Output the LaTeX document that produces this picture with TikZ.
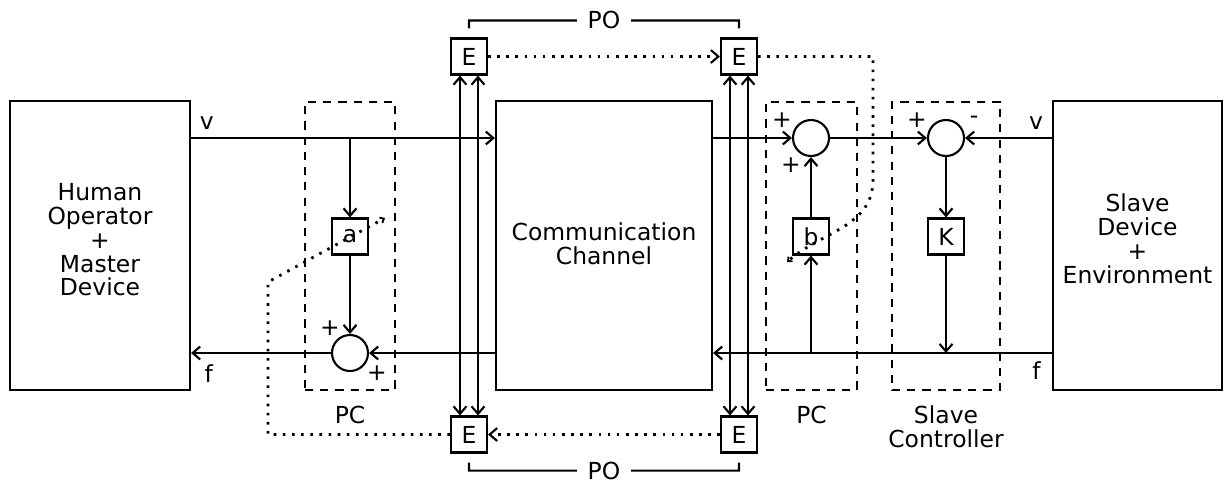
\documentclass[tikz,border=0pt]{standalone}
\usepackage{fontspec}
\setmainfont{DejaVu Sans}
\usetikzlibrary{arrows.meta,positioning}

\begin{document}
\begin{tikzpicture}[
    x=0.015cm, y=-0.015cm,
    font=\fontsize{10}{10.2}\selectfont,
    line width=0.9pt,
    bigbox/.style={draw, minimum height=4.335cm, align=center},
    group/.style={draw, dashed, dash pattern=on 3.5pt off 3pt,
                  minimum height=4.32cm},
    block/.style={draw, minimum size=0.54cm, inner sep=0pt},
    sum/.style={draw, circle, minimum size=0.54cm, inner sep=0pt},
    sign/.style={inner sep=0pt},
    arrow/.style={-{Straight Barb[length=3.2pt,width=5.5pt]}},
    dblarrow/.style={{Straight Barb[length=3.2pt,width=5.5pt]}-{Straight Barb[length=3.2pt,width=5.5pt]}},
    dots/.style={line width=1.2pt, dash pattern=on 1.1pt off 2.8pt},
    dotarrow/.style={-{Straight Barb[length=3.2pt,width=5.5pt,line width=0.9pt]}},
    tiny/.style={-{Straight Barb[length=1.4pt,width=2.6pt,line width=0.8pt]}},
]
\useasboundingbox (0,0) rectangle (1228,480);

% main blocks
\node[bigbox, minimum width=2.7cm, text depth=5pt] (hm) at (100,245.5)
      {Human\\Operator\\+\\Master\\Device};
\node[bigbox, minimum width=3.24cm, text depth=2pt] (cc) at (604,245.5)
      {Communication\\Channel};
\node[bigbox, minimum width=2.535cm, text depth=6pt] (sv) at (1137.5,245.5)
      {Slave\\Device\\+\\Environment};

% dashed groups
\node[group, minimum width=1.35cm,
      label={[label distance=2.5pt]below:PC}] (pcl) at (350,246) {};
\node[group, minimum width=1.365cm,
      label={[label distance=2.5pt]below:PC}] (pcr) at (811.5,246) {};
\node[group, minimum width=1.62cm,
      label={[label distance=2.5pt, align=center]below:Slave\\Controller}]
      (sc) at (946,246) {};

% passivity elements
\node[block] (etl) at (469,56.5) {E};
\node[block] (etr) at (739,56.5) {E};
\node[block] (ebl) at (469,434.5) {E};
\node[block] (ebr) at (739,434.5) {E};

% left PC
\node[block] (a) at (350,236.5) {a};
\node[sum] (sl) at (350,353) {};
% right PC
\node[block] (b) at (811,236.5) {b};
\node[sum] (sb) at (811,138) {};
% slave controller
\node[block] (K) at (946,236.5) {K};
\node[sum] (sk) at (946,138) {};

\coordinate (pr) at (873,180);
\coordinate (bt) at (787,262);
\coordinate (pl) at (268,282);
\coordinate (at) at (385,218);

% signals
\draw[arrow] (hm.east |- sk) node[above right=0pt and 0pt]{v} -- (cc.west |- sk);
\draw[arrow] (a.north |- sk) -- (a);
\draw[arrow] (a) -- (sl);
\draw[arrow] (cc.west |- sl) -- (sl);
\draw[arrow] (sl) -- (hm.east |- sl) node[below right=1pt and 2pt]{f};
\draw[arrow] (cc.east |- sb) -- (sb);
\draw[arrow] (b.south |- sl) -- (b);
\draw[arrow] (b) -- (sb);
\draw[arrow] (sb) -- (sk);
\draw[arrow] (sv.west |- sk) node[above left=0pt and 0pt]{v} -- (sk);
\draw[arrow] (sk) -- (K);
\draw[arrow] (K) -- (K.south |- sl);
\draw[arrow] (sv.west |- sl) node[below left=0pt and 1pt]{f} -- (cc.east |- sl);

% signs
\node[sign] at ([shift={(-20,-25)}]sl) {+};
\node[sign] at ([shift={(27,20)}]sl) {+};
\node[sign] at ([shift={(-29,-18)}]sb) {+};
\node[sign] at ([shift={(-20,27)}]sb) {+};
\node[sign] at ([shift={(-29,-18)}]sk) {+};
\node[sign] at ([shift={(28,-18)}]sk) {-};

% channel taps
\foreach \s in {-0.135,0.135} {
  \draw[dblarrow] ([xshift=\s cm]ebl.north) -- ([xshift=\s cm]etl.south);
  \draw[dblarrow] ([xshift=\s cm]ebr.north) -- ([xshift=\s cm]etr.south);
}

% observer links
\draw[dots, dotarrow] (etl) -- (etr);
\draw[dots, dotarrow] (ebr) -- (ebl);
\draw[dots, tiny] (etr.east) -- (etr.east -| pr) -- (pr)
      to[out=-90, in=41] (bt);
\draw[dots, tiny] (ebl.west) -| (pl) -- (at);

% PO brackets
\draw ([yshift=0.135cm]etl.north) -- ++(0,-8)
      -- node[fill=white, inner xsep=4.5pt, inner ysep=1pt]{PO}
      ([yshift=0.255cm]etr.north) -- ++(0,8);
\draw ([yshift=-0.135cm]ebl.south) -- ++(0,8)
      -- node[fill=white, inner xsep=4.5pt, inner ysep=1pt]{PO}
      ([yshift=-0.255cm]ebr.south) -- ++(0,-8);
\end{tikzpicture}
\end{document}
